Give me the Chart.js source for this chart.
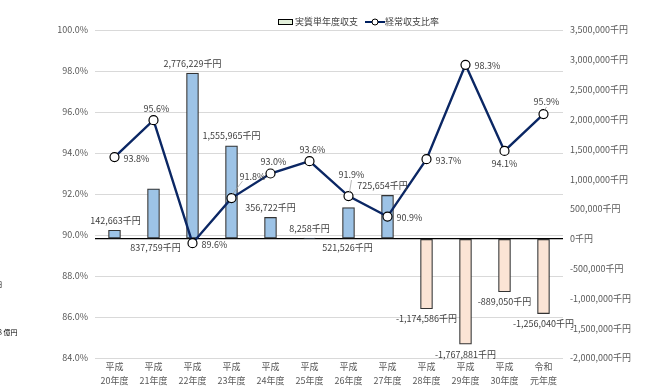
<!DOCTYPE html>
<html>
<head>
<meta charset="utf-8">
<script src="https://cdn.jsdelivr.net/npm/chart.js@4/dist/chart.umd.min.js"></script>
<style>
  html,body{margin:0;padding:0;background:#fff;}
  #wrap{position:relative;width:664px;height:388px;overflow:hidden;font-family:"Noto Sans CJK JP","Noto Sans",sans-serif;}
  canvas{position:absolute;left:0;top:0;}
  .lg{position:absolute;top:16px;font-size:9px;color:#404040;line-height:12px;white-space:nowrap;}
  .stray{position:absolute;font-size:7px;color:#000;white-space:nowrap;}
</style>
</head>
<body>
<div id="wrap">
  <canvas id="c" width="664" height="388"></canvas>
  <div class="lg" style="left:278px;"><span style="display:inline-block;width:13px;height:4px;border:1px solid #000;background:#E2EFDA;vertical-align:middle;margin-right:2px;position:relative;top:-1px;"></span>実質単年度収支</div>
  <div class="lg" style="left:365px;"><svg width="20" height="10" style="vertical-align:middle;position:relative;top:-1px;"><line x1="0" y1="5" x2="20" y2="5" stroke="#002060" stroke-width="2"/><circle cx="10" cy="5" r="3" fill="#fff" stroke="#000" stroke-width="1"/></svg>経常収支比率</div>
  <div class="stray" style="left:-5px;top:279px;">円</div>
  <div class="stray" style="left:-4px;top:327px;">.8 億円</div>
</div>
<script>
const categories = [["平成","20年度"],["平成","21年度"],["平成","22年度"],["平成","23年度"],["平成","24年度"],["平成","25年度"],["平成","26年度"],["平成","27年度"],["平成","28年度"],["平成","29年度"],["平成","30年度"],["令和","元年度"]];
const balanceValues = [142663, 837759, 2776229, 1555965, 356722, 8258, 521526, 725654, -1174586, -1767881, -889050, -1256040];
const ratioValues = [93.8, 95.6, 89.6, 91.8, 93.0, 93.6, 91.9, 90.9, 93.7, 98.3, 94.1, 95.9];
const balanceLabelPlace = ["above","below0","above","above","above","above","below0","above","below","below","below","below"];
const ratioLabelPlace = ["right","above","right","leader","above","above","leader2","right","right","right","below","leaderUp"];

const fmtYen = v => v.toLocaleString('en-US') + '千円';
const fmtPct = v => v.toFixed(1) + '%';
const FONT = '"Noto Sans CJK JP","Noto Sans",sans-serif';

const labelPlugin = {
  id: 'labels',
  afterDatasetsDraw(chart) {
    const ctx = chart.ctx;
    ctx.save();
    ctx.font = '9px ' + FONT;
    ctx.fillStyle = '#404040';
    ctx.textAlign = 'center';
    ctx.textBaseline = 'middle';
    const zeroY = chart.scales.y2.getPixelForValue(0);
    const bars = chart.getDatasetMeta(1).data;
    bars.forEach((b, i) => {
      const v = balanceValues[i];
      const t = fmtYen(v);
      let x = b.x, y;
      const p = balanceLabelPlace[i];
      if (p === 'above') y = b.y - 10;
      else if (p === 'below0') y = zeroY + 9;
      else y = b.y + 10;
      if (i === 0) x += 1;
      if (i === 1) x += 2;
      if (i === 6) x -= 1;
      if (i === 7) x -= 5;
      ctx.fillText(t, x, y);
    });
    const pts = chart.getDatasetMeta(0).data;
    pts.forEach((pt, i) => {
      const t = fmtPct(ratioValues[i]);
      const p = ratioLabelPlace[i];
      let x = pt.x, y = pt.y;
      ctx.textAlign = 'center';
      if (p === 'right') { ctx.textAlign = 'left'; x += 9; y += 1; }
      else if (p === 'above') { x += 3; y -= 12; }
      else if (p === 'below') { y += 13; }
      else if (p === 'leader' || p === 'leader2' || p === 'leaderUp') {
        let lx, ly;
        if (p === 'leader') { lx = pt.x + 21; ly = pt.y - 22; }
        else if (p === 'leader2') { lx = pt.x + 3; ly = pt.y - 21; }
        else { lx = pt.x + 3; ly = pt.y - 12; }
        ctx.strokeStyle = '#a6a6a6';
        ctx.lineWidth = 0.8;
        ctx.beginPath();
        ctx.moveTo(pt.x + 1, pt.y - 4);
        ctx.lineTo(lx - (p === 'leader' ? 10 : 0), ly + 5);
        ctx.stroke();
        x = lx; y = ly;
      }
      ctx.fillText(t, x, y);
    });
    ctx.restore();
  }
};

new Chart(document.getElementById('c'), {
  data: {
    labels: categories,
    datasets: [
      {
        type: 'line',
        label: '経常収支比率',
        data: ratioValues,
        yAxisID: 'y',
        borderColor: '#0b2764',
        borderWidth: 2.4,
        pointRadius: 4.5,
        pointBackgroundColor: '#ffffff',
        pointBorderColor: '#000000',
        pointBorderWidth: 1.2,
        tension: 0,
        order: 0
      },
      {
        type: 'bar',
        label: '実質単年度収支',
        data: balanceValues,
        yAxisID: 'y2',
        backgroundColor: balanceValues.map(v => v >= 0 ? '#9DC3E6' : '#FBE4D5'),
        borderColor: '#333333',
        borderWidth: 1.2,
        borderSkipped: false,
        barThickness: 12,
        order: 1
      }
    ]
  },
  options: {
    responsive: false,
    animation: false,
    events: [],
    layout: { padding: { top: 30, left: 0, right: 0, bottom: 0 } },
    plugins: { legend: { display: false }, tooltip: { enabled: false } },
    scales: {
      x: {
        offset: true,
        grid: { display: false, drawTicks: false },
        border: { display: false },
        ticks: { color: '#595959', font: { family: FONT, size: 9, lineHeight: 1.5 }, padding: 2, maxRotation: 0, autoSkip: false },
        afterFit(s) { s.height = 30; }
      },
      y: {
        position: 'left',
        min: 84, max: 100,
        ticks: { stepSize: 2, color: '#595959', font: { family: FONT, size: 9 }, padding: 7, callback: v => fmtPct(v) },
        grid: { color: '#d9d9d9', lineWidth: 1, drawTicks: false },
        border: { display: false },
        afterFit(s) { s.width = 95; }
      },
      y2: {
        position: 'right',
        min: -2000000, max: 3500000,
        ticks: { stepSize: 500000, color: '#595959', font: { family: FONT, size: 9 }, padding: 7, callback: v => fmtYen(v) },
        grid: { drawOnChartArea: true, drawTicks: false, color: c => c.tick && c.tick.value === 0 ? '#000000' : 'rgba(0,0,0,0)', lineWidth: 1.3 },
        border: { display: false },
        afterFit(s) { s.width = 101; }
      }
    }
  },
  plugins: [labelPlugin]
});
</script>
</body>
</html>
